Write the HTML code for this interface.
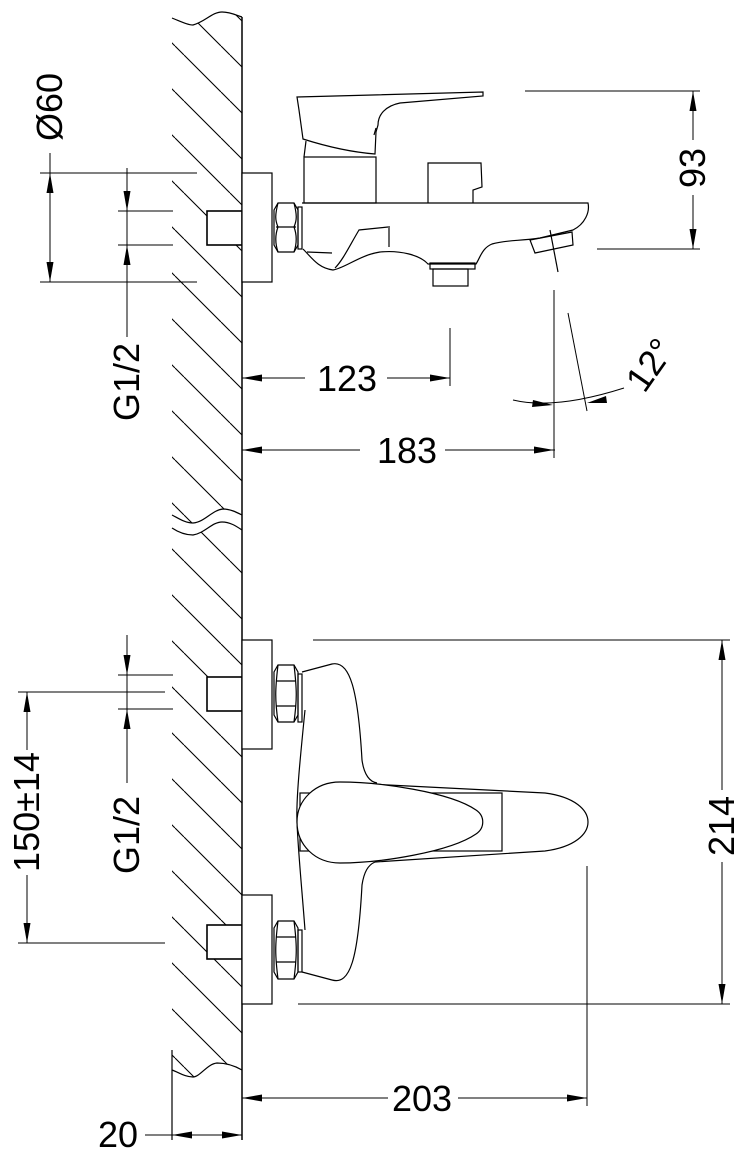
<!DOCTYPE html>
<html><head><meta charset="utf-8"><style>
html,body{margin:0;padding:0;background:#fff}
svg{display:block}
text{font-family:"Liberation Sans",sans-serif;font-size:36px;fill:#000}
</style></head><body>
<svg width="745" height="1155" viewBox="0 0 745 1155" xmlns="http://www.w3.org/2000/svg">
<defs>
<pattern id="h" patternUnits="userSpaceOnUse" width="46" height="46">
<path d="M0,9 L37,46 M37,0 L46,9" stroke="#000" stroke-width="1.1"/>
</pattern>
</defs>
<g fill="none" stroke="#000" stroke-width="1.2">
<path d="M172,18 C182,22 188,25 193,25 C205,22 212,12 222,12 C230,12 236,15 242,17 L242,515 C236,512 230,509 223,509 C212,510 205,522 193,523 C185,523 178,518 172,515 Z" fill="url(#h)" stroke="none"/>
<path d="M172,528 C178,532 186,535 193,535 C205,533 212,522 222,522 C230,522 236,526 242,530 L242,1070 C235,1066 226,1063 217,1063 C207,1064 200,1077 193,1077 C185,1077 178,1072 172,1070 Z" fill="url(#h)" stroke="none"/>
<path d="M172,18 C182,22 188,25 193,25 C205,22 212,12 222,12 C230,12 236,15 242,17"/>
<path d="M172,515 C178,518 185,523 193,523 C205,522 212,510 223,509 C230,509 236,512 242,515"/>
<path d="M172,528 C178,532 186,535 193,535 C205,533 212,522 222,522 C230,522 236,526 242,530"/>
<path d="M172,1070 C178,1072 185,1077 193,1077 C200,1077 207,1064 217,1063 C226,1063 235,1066 242,1070"/>
<line x1="242" y1="17" x2="242" y2="1140" stroke-width="1.5"/>
<line x1="172" y1="1050" x2="172" y2="1140"/>

<rect x="207" y="211" width="35" height="34" fill="#fff" stroke-width="1.6"/>
<rect x="242" y="173" width="30" height="109" fill="#fff"/>
<path d="M278,203 L294,203 L298,210 L298,245 L294,252 L278,252 L274,245 L274,210 Z" fill="#fff"/>
<path d="M276,227 L296,227 M278,203 C275,215 275,220 278,227 C275,235 275,243 278,252 M294,203 C297,215 297,220 294,227 C297,235 297,243 294,252"/>
<rect x="298" y="207" width="4" height="42"/>
<path d="M302,203 L588,203 C590,212 585,224 573,230 L540,238 C520,241 505,240 492,244 C482,248 480,258 476,264 L428,264 C420,255 400,250 380,252 C360,255 345,268 333,270 C318,268 312,258 303,249"/>
<path d="M388,227 L359,230 C350,245 343,260 335,268 M389,226 L389,247 M307,252 L332,253"/>
<rect x="430" y="263" width="45" height="6"/>
<rect x="433" y="269" width="35" height="17"/>
<path d="M530,240 L572,232 L573,245 L535,253 Z"/>
<path d="M550,230 L558,272"/>
<rect x="304" y="157" width="72" height="46"/>
<path d="M297,97 L483,92 L483,96 L400,103 C385,106 378,115 378,125 L376,132 L375,154 C350,152 325,146 303,139 L299,110 Z"/>
<path d="M306,141 L304,157 M374,135 L376,128"/>
<path d="M428,203 L428,163 L481,163 L482,187 L473,190 L473,203"/>

<rect x="207" y="677" width="35" height="34" fill="#fff" stroke-width="1.6"/>
<rect x="207" y="925" width="35" height="34" fill="#fff" stroke-width="1.6"/>
<rect x="242" y="640" width="30" height="109" fill="#fff"/>
<rect x="242" y="895" width="30" height="109" fill="#fff"/>
<path d="M278,665 L294,665 L298,672 L298,715 L294,722 L278,722 L274,715 L274,672 Z" fill="#fff"/>
<path d="M276,681 L296,681 M276,706 L296,706 M278,665 C275,690 275,700 278,722 M294,665 C297,690 297,700 294,722"/>
<path d="M278,921 L294,921 L298,928 L298,972 L294,979 L278,979 L274,972 L274,928 Z" fill="#fff"/>
<path d="M276,937 L296,937 M276,962 L296,962 M278,921 C275,945 275,955 278,979 M294,921 C297,945 297,955 294,979"/>
<rect x="298" y="674" width="4" height="48"/>
<rect x="298" y="930" width="4" height="42"/>
<path d="M302,672 L332,664 C350,660 358,690 362,760 C364,775 370,782 377,783"/>
<path d="M375,862 C368,865 364,872 362,885 C358,960 350,985 332,980 L302,972"/>
<path d="M305,710 C300,760 296,800 297,822 C298,850 302,890 305,930"/>
<rect x="300" y="793" width="202" height="58"/>
<path d="M350,783 L545,793 C575,797 588,810 588,822 C588,834 575,847 545,851 L375,862"/>
<path d="M340,782 C380,782 450,792 476,810 C485,816 485,828 476,834 C450,852 380,863 340,863 C315,863 297,845 297,822 C297,800 315,782 340,782 Z" fill="#fff"/>
</g>

<g fill="none" stroke="#000" stroke-width="1">
<line x1="40" y1="173" x2="197" y2="173"/><line x1="40" y1="282" x2="197" y2="282"/>
<line x1="50" y1="153" x2="50" y2="282"/>
<line x1="118" y1="211" x2="173" y2="211"/><line x1="118" y1="245" x2="173" y2="245"/>
<line x1="127" y1="168" x2="127" y2="337"/>
<line x1="242" y1="378" x2="305" y2="378"/><line x1="387" y1="378" x2="450" y2="378"/>
<line x1="450" y1="328" x2="450" y2="386"/>
<line x1="242" y1="450" x2="360" y2="450"/><line x1="445" y1="450" x2="555" y2="450"/>
<line x1="554" y1="290" x2="554" y2="458"/>
<line x1="568" y1="313" x2="587" y2="411"/>
<path d="M513,400 Q555,410 624,388"/>
<line x1="525" y1="91" x2="700" y2="91"/><line x1="597" y1="249" x2="700" y2="249"/>
<line x1="693" y1="91" x2="693" y2="140"/><line x1="693" y1="195" x2="693" y2="249"/>
<line x1="313" y1="640" x2="730" y2="640"/><line x1="298" y1="1004" x2="730" y2="1004"/>
<line x1="722" y1="640" x2="722" y2="790"/><line x1="722" y1="862" x2="722" y2="1004"/>
<line x1="587" y1="866" x2="587" y2="1106"/>
<line x1="242" y1="1098" x2="388" y2="1098"/><line x1="458" y1="1098" x2="587" y2="1098"/>
<line x1="118" y1="675" x2="173" y2="675"/><line x1="118" y1="709" x2="173" y2="709"/>
<line x1="127" y1="635" x2="127" y2="783"/>
<line x1="18" y1="692" x2="165" y2="692"/><line x1="18" y1="943" x2="165" y2="943"/>
<line x1="27" y1="692" x2="27" y2="750"/><line x1="27" y1="875" x2="27" y2="943"/>
<line x1="145" y1="1135" x2="242" y2="1135"/>
</g>
<g fill="#000" stroke="none">
<polygon points="50,173 46.5,193 53.5,193"/><polygon points="50,282 46.5,262 53.5,262"/>
<polygon points="127,211 123.5,191 130.5,191"/><polygon points="127,245 123.5,265 130.5,265"/>
<polygon points="242,378 262,374.5 262,381.5"/><polygon points="450,378 430,374.5 430,381.5"/>
<polygon points="242,450 262,446.5 262,453.5"/><polygon points="554,450 534,446.5 534,453.5"/>
<polygon points="553,405 533,400 532,407"/><polygon points="587,403 606,396 607,403"/>
<polygon points="693,91 689.5,111 696.5,111"/><polygon points="693,249 689.5,229 696.5,229"/>
<polygon points="722,640 718.5,660 725.5,660"/><polygon points="722,1004 718.5,984 725.5,984"/>
<polygon points="242,1098 262,1094.5 262,1101.5"/><polygon points="587,1098 567,1094.5 567,1101.5"/>
<polygon points="127,675 123.5,655 130.5,655"/><polygon points="127,709 123.5,729 130.5,729"/>
<polygon points="27,692 23.5,712 30.5,712"/><polygon points="27,943 23.5,923 30.5,923"/>
<polygon points="172,1135 192,1131.5 192,1138.5"/><polygon points="242,1135 222,1131.5 222,1138.5"/>
</g>
<g>
<text transform="translate(62,107) rotate(-90)" text-anchor="middle">Ø60</text>
<text transform="translate(139,382) rotate(-90)" text-anchor="middle">G1/2</text>
<text x="347" y="391" text-anchor="middle">123</text>
<text x="407" y="463" text-anchor="middle">183</text>
<text transform="translate(660,372) rotate(-55)" text-anchor="middle">12°</text>
<text transform="translate(705,168) rotate(-90)" text-anchor="middle">93</text>
<text transform="translate(734,826) rotate(-90)" text-anchor="middle">214</text>
<text x="422" y="1111" text-anchor="middle">203</text>
<text transform="translate(139,835) rotate(-90)" text-anchor="middle">G1/2</text>
<text transform="translate(39,812) rotate(-90)" text-anchor="middle">150±14</text>
<text x="118" y="1147" text-anchor="middle">20</text>
</g>
</svg>
</body></html>
